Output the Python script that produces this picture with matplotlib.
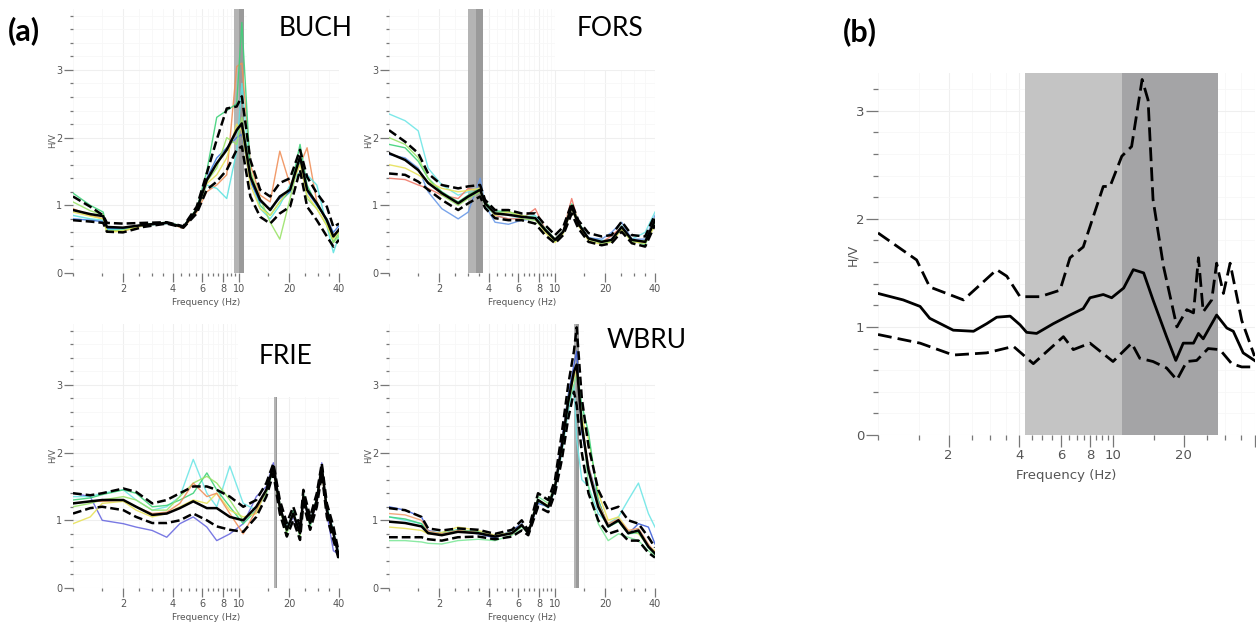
import matplotlib
matplotlib.use("Agg")
import matplotlib.pyplot as plt
import matplotlib.ticker as ticker
from matplotlib.patches import Rectangle

W, H = 1256, 625

# ---- panel (a): single-station H/V curves ----
BUCH_FREQ = [1.0, 1.27, 1.52, 1.6, 2.0, 2.65, 3.67, 4.62, 5.56, 6.39, 7.34, 8.43, 9.68,
             10.4, 11.7, 13.4, 15.4, 17.6, 20.3, 23.3, 25.7, 29.4, 33.8, 37.0, 40.0]
BUCH_MEAN = [0.93, 0.87, 0.84, 0.68, 0.67, 0.71, 0.74, 0.68, 0.93, 1.37, 1.62, 1.82, 2.11,
             2.21, 1.42, 1.08, 0.93, 1.13, 1.23, 1.72, 1.23, 1.03, 0.78, 0.54, 0.64]
BUCH_UPPER = [1.13, 0.98, 0.85, 0.74, 0.73, 0.74, 0.75, 0.69, 0.98, 1.47, 1.97, 2.43, 2.46,
              2.61, 1.67, 1.23, 1.13, 1.33, 1.40, 1.82, 1.42, 1.18, 0.98, 0.68, 0.73]
BUCH_LOWER = [0.78, 0.76, 0.74, 0.61, 0.60, 0.68, 0.73, 0.67, 0.88, 1.23, 1.35, 1.52, 1.82,
              1.87, 1.13, 0.83, 0.73, 0.88, 0.98, 1.52, 0.98, 0.78, 0.54, 0.39, 0.49]
BUCH_WIN = [
    [0.95, 0.85, 0.80, 0.62, 0.62, 0.70, 0.74, 0.66, 0.90, 1.20, 1.30, 1.45, 3.05,
     3.10, 1.60, 1.15, 1.05, 1.80, 1.30, 1.60, 1.85, 1.05, 0.75, 0.55, 0.65],
    [1.18, 1.00, 0.90, 0.65, 0.64, 0.72, 0.75, 0.69, 0.95, 1.50, 2.30, 2.40, 2.50,
     3.70, 1.50, 1.00, 0.85, 1.05, 1.20, 1.90, 1.30, 1.00, 0.80, 0.45, 0.60],
    [0.85, 0.80, 0.78, 0.64, 0.65, 0.70, 0.73, 0.68, 0.92, 1.30, 1.25, 1.10, 1.80,
     2.80, 1.40, 0.95, 0.80, 1.00, 1.30, 1.50, 1.45, 1.30, 0.70, 0.30, 0.55],
    [0.80, 0.78, 0.76, 0.66, 0.66, 0.70, 0.74, 0.68, 0.93, 1.40, 1.70, 1.85, 2.00,
     2.05, 1.35, 1.05, 0.95, 1.10, 1.20, 1.65, 1.20, 1.00, 0.80, 0.60, 0.70],
    [1.05, 0.92, 0.86, 0.62, 0.63, 0.71, 0.74, 0.68, 0.94, 1.35, 1.55, 2.00, 1.90,
     2.30, 1.50, 1.10, 0.75, 0.50, 1.10, 1.70, 1.10, 0.95, 0.70, 0.45, 0.55],
    [0.90, 0.84, 0.80, 0.60, 0.62, 0.70, 0.74, 0.67, 0.92, 1.32, 1.45, 1.70, 2.20,
     2.10, 1.30, 0.95, 0.85, 1.05, 1.25, 1.60, 1.15, 0.95, 0.70, 0.50, 0.60],
]
BUCH_COLORS = ['#f0905a', '#3fd27a', '#5fe3e0', '#3f78e0', '#9be36a', '#e8e25a']
BUCH_BAND = [9.33, 10.05, 10.7]

FORS_FREQ = [1.0, 1.25, 1.5, 1.72, 2.08, 2.61, 3.0, 3.54, 3.79, 4.35, 5.24, 6.3, 7.6,
             8.7, 10.0, 11.2, 12.6, 13.8, 15.9, 19.1, 21.9, 25.2, 29.0, 34.9, 40.0]
FORS_MEAN = [1.77, 1.67, 1.52, 1.33, 1.18, 1.03, 1.13, 1.23, 1.03, 0.88, 0.86, 0.83, 0.81,
             0.64, 0.49, 0.61, 0.98, 0.73, 0.51, 0.46, 0.49, 0.68, 0.49, 0.46, 0.78]
FORS_UPPER = [2.11, 1.94, 1.77, 1.47, 1.30, 1.25, 1.28, 1.30, 1.08, 0.93, 0.93, 0.88, 0.88,
              0.71, 0.56, 0.68, 1.03, 0.78, 0.59, 0.54, 0.56, 0.76, 0.56, 0.54, 0.86]
FORS_LOWER = [1.47, 1.45, 1.35, 1.23, 1.08, 0.93, 1.03, 1.13, 0.96, 0.81, 0.78, 0.78, 0.73,
              0.56, 0.44, 0.56, 0.88, 0.66, 0.46, 0.41, 0.44, 0.61, 0.44, 0.39, 0.71]
FORS_WIN = [
    [2.35, 2.25, 2.10, 1.55, 1.30, 1.15, 1.20, 1.25, 1.00, 0.85, 0.80, 0.82, 0.85,
     0.65, 0.50, 0.62, 1.00, 0.75, 0.52, 0.48, 0.50, 0.70, 0.50, 0.60, 0.90],
    [1.40, 1.38, 1.30, 1.25, 1.15, 1.10, 1.25, 1.20, 1.05, 0.85, 0.80, 0.80, 0.95,
     0.65, 0.50, 0.62, 1.10, 0.75, 0.50, 0.45, 0.55, 0.68, 0.48, 0.45, 0.80],
    [1.75, 1.70, 1.55, 1.20, 0.95, 0.80, 0.90, 1.40, 1.00, 0.75, 0.72, 0.78, 0.80,
     0.62, 0.48, 0.60, 0.95, 0.72, 0.52, 0.50, 0.60, 0.75, 0.50, 0.50, 0.85],
    [1.90, 1.85, 1.65, 1.40, 1.20, 1.05, 1.15, 1.25, 1.05, 0.92, 0.90, 0.85, 0.82,
     0.66, 0.50, 0.62, 1.02, 0.76, 0.50, 0.45, 0.48, 0.66, 0.48, 0.42, 0.75],
    [1.60, 1.55, 1.45, 1.35, 1.25, 1.20, 1.22, 1.25, 1.05, 0.85, 0.90, 0.85, 0.80,
     0.60, 0.45, 0.58, 0.95, 0.70, 0.48, 0.42, 0.46, 0.64, 0.46, 0.44, 0.70],
    [2.00, 1.90, 1.70, 1.40, 1.15, 1.00, 1.10, 1.20, 1.00, 0.88, 0.92, 0.80, 0.78,
     0.63, 0.47, 0.60, 0.98, 0.74, 0.50, 0.44, 0.47, 0.67, 0.46, 0.48, 0.80],
]
FORS_COLORS = ['#6fe6e6', '#f07a6a', '#6a9ae8', '#3fd27a', '#e8e25a', '#9be36a']
FORS_BAND = [2.99, 3.34, 3.68]

FRIE_FREQ = [1.0, 1.27, 1.5, 2.01, 2.4, 3.0, 3.67, 4.4, 5.3, 6.4, 7.34, 8.8, 10.6, 12.7,
             14.6, 16.1, 17.6, 19.4, 21.2, 23.3, 24.4, 26.8, 29.4, 31.5, 33.8, 37.0, 40.0]
FRIE_MEAN = [1.25, 1.28, 1.30, 1.30, 1.20, 1.08, 1.10, 1.18, 1.28, 1.18, 1.18, 1.05, 1.00, 1.20,
             1.45, 1.79, 1.20, 0.86, 1.10, 0.81, 1.35, 0.96, 1.30, 1.79, 1.15, 0.81, 0.46]
FRIE_UPPER = [1.40, 1.37, 1.40, 1.47, 1.42, 1.25, 1.30, 1.40, 1.50, 1.50, 1.45, 1.35, 1.20, 1.30,
              1.55, 1.84, 1.30, 0.96, 1.20, 0.91, 1.45, 1.05, 1.40, 1.84, 1.25, 0.91, 0.51]
FRIE_LOWER = [1.10, 1.18, 1.20, 1.15, 1.05, 0.96, 0.96, 1.00, 1.10, 1.00, 0.91, 0.86, 0.83, 1.05,
              1.35, 1.69, 1.10, 0.76, 1.00, 0.71, 1.25, 0.86, 1.20, 1.69, 1.05, 0.71, 0.41]
FRIE_WIN = [
    [1.40, 1.35, 1.00, 0.95, 0.90, 0.85, 0.75, 0.95, 1.05, 0.90, 0.70, 0.80, 0.95, 1.35,
     1.50, 1.85, 1.15, 0.85, 1.05, 0.80, 1.30, 0.95, 1.25, 1.85, 1.10, 0.55, 0.50],
    [1.35, 1.35, 1.40, 1.45, 1.30, 1.15, 1.20, 1.35, 1.90, 1.40, 1.20, 1.80, 1.25, 1.15,
     1.40, 1.75, 1.20, 0.90, 1.10, 0.85, 1.35, 1.00, 1.30, 1.75, 1.20, 0.85, 0.50],
    [1.30, 1.33, 1.38, 1.45, 1.40, 1.20, 1.22, 1.30, 1.40, 1.70, 1.45, 1.20, 0.95, 1.15,
     1.45, 1.80, 1.25, 0.80, 1.15, 0.75, 1.40, 0.90, 1.35, 1.80, 1.20, 0.80, 0.45],
    [0.95, 1.05, 1.25, 1.28, 1.15, 1.05, 1.10, 1.20, 1.30, 1.25, 1.40, 1.15, 1.05, 1.10,
     1.45, 1.75, 1.20, 0.85, 1.10, 0.80, 1.35, 0.95, 1.30, 1.70, 1.15, 0.80, 0.48],
    [1.20, 1.25, 1.30, 1.35, 1.30, 1.15, 1.15, 1.35, 1.55, 1.65, 1.55, 1.30, 1.00, 1.20,
     1.40, 1.78, 1.15, 0.82, 1.10, 0.78, 1.35, 0.95, 1.30, 1.78, 1.15, 0.78, 0.45],
    [1.25, 1.28, 1.28, 1.30, 1.20, 1.10, 1.12, 1.25, 1.55, 1.35, 1.40, 1.10, 0.80, 1.15,
     1.45, 1.80, 1.20, 0.86, 1.10, 0.80, 1.35, 0.96, 1.28, 1.75, 1.15, 0.80, 0.46],
]
FRIE_COLORS = ['#6a6ae0', '#6fe6e6', '#3fd27a', '#e8e25a', '#9be36a', '#f0905a']
FRIE_BAND = [16.3, 16.6, 16.9]

WBRU_FREQ = [1.0, 1.25, 1.57, 1.72, 2.08, 2.6, 3.45, 4.35, 5.5, 6.3, 6.9, 7.9, 9.1, 10.0,
             11.0, 12.0, 13.0, 13.5, 14.5, 15.9, 18.2, 20.9, 24.1, 27.6, 31.8, 36.5, 40.0]
WBRU_MEAN = [0.98, 0.96, 0.91, 0.81, 0.78, 0.83, 0.81, 0.76, 0.81, 0.93, 0.81, 1.30, 1.20, 1.50,
             2.10, 2.75, 3.20, 3.30, 2.40, 1.74, 1.20, 0.91, 1.00, 0.81, 0.85, 0.61, 0.51]
WBRU_UPPER = [1.18, 1.15, 1.05, 0.88, 0.85, 0.88, 0.86, 0.80, 0.86, 1.00, 0.85, 1.40, 1.30, 1.60,
              2.30, 3.00, 3.50, 3.85, 2.80, 2.10, 1.45, 1.15, 1.20, 1.00, 0.95, 0.75, 0.60]
WBRU_LOWER = [0.75, 0.75, 0.75, 0.72, 0.70, 0.75, 0.76, 0.72, 0.76, 0.85, 0.78, 1.20, 1.12, 1.40,
              1.90, 2.50, 2.90, 2.70, 2.00, 1.40, 1.00, 0.80, 0.85, 0.70, 0.70, 0.52, 0.45]
WBRU_WIN = [
    [1.20, 1.15, 1.05, 0.85, 0.80, 0.84, 0.80, 0.74, 0.85, 0.95, 0.80, 1.25, 1.20, 1.50,
     2.20, 2.85, 3.30, 3.50, 2.30, 1.80, 1.30, 0.90, 1.00, 0.80, 0.95, 0.90, 0.65],
    [1.05, 1.00, 0.95, 0.83, 0.82, 0.86, 0.82, 0.78, 0.82, 0.92, 0.82, 1.30, 1.18, 1.45,
     2.00, 2.60, 3.00, 2.20, 1.60, 1.50, 1.10, 0.95, 1.05, 1.30, 1.55, 1.10, 0.90],
    [0.70, 0.70, 0.68, 0.66, 0.65, 0.70, 0.72, 0.70, 0.78, 0.90, 0.82, 1.35, 1.25, 1.55,
     2.05, 2.70, 3.00, 3.15, 2.60, 1.50, 0.95, 0.70, 0.80, 0.75, 0.70, 0.55, 0.48],
    [0.90, 0.88, 0.85, 0.80, 0.82, 0.90, 0.85, 0.78, 0.82, 0.94, 0.80, 1.30, 1.22, 1.50,
     2.10, 2.75, 3.10, 3.20, 2.50, 2.20, 1.40, 1.00, 1.05, 0.85, 0.80, 0.62, 0.55],
    [1.05, 1.02, 0.95, 0.82, 0.80, 0.86, 0.83, 0.76, 0.80, 0.92, 0.80, 1.28, 1.20, 1.48,
     2.12, 2.80, 3.15, 3.25, 2.70, 2.30, 1.30, 0.90, 0.98, 0.80, 0.82, 0.60, 0.50],
    [1.10, 1.08, 1.00, 0.84, 0.80, 0.85, 0.82, 0.77, 0.80, 0.93, 0.81, 1.30, 1.20, 1.50,
     2.15, 2.78, 3.15, 3.25, 2.45, 1.80, 1.25, 0.95, 1.02, 0.85, 0.88, 0.65, 0.52],
]
WBRU_COLORS = ['#3f5fd8', '#6fe6e6', '#7fe89a', '#e8e25a', '#3fd27a', '#f0a070']
WBRU_BAND = [13.0, 13.45, 13.9]

# ---- panel (b): mean H/V with +/- std ----
B_FREQ_MEAN = [1.0, 1.28, 1.51, 1.66, 2.09, 2.55, 2.90, 3.20, 3.65, 4.02, 4.29, 4.73, 5.57,
               6.56, 7.47, 7.98, 9.09, 9.87, 11.1, 12.2, 13.5, 14.8, 16.9, 18.5, 19.9, 22.0,
               23.1, 24.2, 27.6, 30.5, 32.5, 35.8, 40.0]
B_MEAN = [1.31, 1.25, 1.19, 1.08, 0.97, 0.96, 1.03, 1.09, 1.10, 1.02, 0.95, 0.94, 1.03,
          1.11, 1.17, 1.27, 1.30, 1.27, 1.36, 1.53, 1.50, 1.25, 0.91, 0.69, 0.85, 0.85,
          0.94, 0.89, 1.11, 0.99, 0.96, 0.76, 0.69]
B_FREQ_UP = [1.0, 1.46, 1.66, 2.31, 2.72, 3.20, 3.53, 4.02, 4.89, 5.95, 6.56, 7.47, 9.09,
             9.71, 10.9, 12.0, 13.3, 14.1, 14.8, 16.4, 18.7, 20.6, 22.0, 23.1, 24.2, 26.3,
             27.6, 29.5, 31.5, 35.3, 40.0]
B_UPPER = [1.87, 1.62, 1.37, 1.25, 1.39, 1.53, 1.47, 1.28, 1.28, 1.34, 1.64, 1.74, 2.30,
           2.30, 2.58, 2.67, 3.29, 3.10, 2.18, 1.56, 1.00, 1.16, 1.13, 1.64, 1.14, 1.25,
           1.59, 1.31, 1.59, 1.06, 0.73]
B_FREQ_LO = [1.0, 1.51, 2.09, 2.90, 3.77, 4.58, 6.15, 6.78, 7.98, 10.0, 12.0, 13.0, 14.8,
             16.9, 18.7, 20.6, 22.7, 25.4, 28.5, 32.0, 35.3, 40.0]
B_LOWER = [0.93, 0.85, 0.74, 0.76, 0.82, 0.66, 0.91, 0.79, 0.85, 0.68, 0.85, 0.71, 0.68,
           0.62, 0.51, 0.68, 0.69, 0.80, 0.79, 0.66, 0.63, 0.63]
B_LIGHT_BAND = [4.22, 10.9]
B_DARK_BAND = [10.9, 28.0]

X_MAJOR = [2, 4, 6, 8, 10, 20, 40]
X_MINOR = [1, 1.5, 2.5, 3, 3.5, 4.5, 5, 5.5, 6.5, 7, 7.5, 8.5, 9, 9.5, 15, 25, 30, 35]


def px_axes(fig, left, right, top, bottom):
    return fig.add_axes([left / W, 1 - bottom / H, (right - left) / W, (bottom - top) / H])


def fig_text(fig, x, y, s, **kw):
    return fig.text(x / W, 1 - y / H, s, **kw)


def white_box(fig, x0, y0, x1, y1):
    fig.add_artist(Rectangle((x0 / W, 1 - y1 / H), (x1 - x0) / W, (y1 - y0) / H,
                             transform=fig.transFigure, fc='white', ec='none', zorder=3))


def style_hv(ax, ymax, fs, xlabels):
    ax.set_xscale('log')
    ax.set_xlim(1, 40)
    ax.set_ylim(0, ymax)
    for s in ax.spines.values():
        s.set_visible(False)
    ax.set_xticks(X_MAJOR, labels=[str(v) if v in xlabels else '' for v in X_MAJOR])
    ax.set_xticks(X_MINOR, minor=True)
    ax.xaxis.set_minor_formatter(ticker.NullFormatter())
    ax.yaxis.set_major_locator(ticker.MultipleLocator(1))
    ax.yaxis.set_minor_locator(ticker.MultipleLocator(0.2))
    ax.tick_params(which='both', colors='#777777', labelcolor='#555555', labelsize=fs,
                   direction='out', width=0.9)
    ax.tick_params(which='major', length=fs * 0.9, pad=1.5)
    ax.tick_params(which='minor', length=fs * 0.35)
    ax.grid(which='major', color='#efefef', lw=0.8)
    ax.grid(which='minor', color='#f7f7f7', lw=0.6)
    ax.set_axisbelow(True)


def station(fig, box, freq, mean, upper, lower, wins, colors, band, band_top):
    ax = px_axes(fig, *box)
    style_hv(ax, 3.9, 7, X_MAJOR)
    ax.fill_between([band[0], band[1]], 0, band_top, color='#b4b4b4', lw=0, zorder=1)
    ax.fill_between([band[1], band[2]], 0, band_top, color='#9a9a9a', lw=0, zorder=1)
    for w, c in zip(wins, colors):
        ax.plot(freq, w, color=c, lw=1.0, alpha=0.9, zorder=2)
    for curve in (upper, lower):
        ax.plot(freq, curve, color='black', lw=1.8, ls=(0, (3.5, 1.6)), zorder=3)
    ax.plot(freq, mean, color='black', lw=1.8, zorder=4)
    ax.text(0.5, -29 / 264, 'Frequency (Hz)', transform=ax.transAxes, ha='center',
            va='center', fontsize=6.5, color='#555555')
    ax.text(-21 / 266, 1.95, 'H/V', transform=ax.get_yaxis_transform(), rotation=90,
            ha='center', va='center', fontsize=6, color='#555555')
    return ax


fig = plt.figure(figsize=(W / 100, H / 100), dpi=100)

station(fig, (73, 339, 9, 273), BUCH_FREQ, BUCH_MEAN, BUCH_UPPER, BUCH_LOWER,
        BUCH_WIN, BUCH_COLORS, BUCH_BAND, 3.9)
station(fig, (389, 655, 9, 273), FORS_FREQ, FORS_MEAN, FORS_UPPER, FORS_LOWER,
        FORS_WIN, FORS_COLORS, FORS_BAND, 3.9)
station(fig, (73, 339, 324, 588), FRIE_FREQ, FRIE_MEAN, FRIE_UPPER, FRIE_LOWER,
        FRIE_WIN, FRIE_COLORS, FRIE_BAND, 3.9)
station(fig, (389, 655, 324, 588), WBRU_FREQ, WBRU_MEAN, WBRU_UPPER, WBRU_LOWER,
        WBRU_WIN, WBRU_COLORS, WBRU_BAND, 3.9)

# panel (b)
axb = px_axes(fig, 878, 1254.5, 73, 435)
style_hv(axb, 3.35, 9.5, [2, 4, 6, 8, 10, 20])
axb.axvspan(*B_LIGHT_BAND, color='#c4c4c4', lw=0, zorder=1)
axb.axvspan(*B_DARK_BAND, color='#a4a4a6', lw=0, zorder=1)
axb.plot(B_FREQ_UP, B_UPPER, color='black', lw=2.0, ls=(0, (5, 2.2)), zorder=3)
axb.plot(B_FREQ_LO, B_LOWER, color='black', lw=2.0, ls=(0, (5, 2.2)), zorder=3)
axb.plot(B_FREQ_MEAN, B_MEAN, color='black', lw=2.0, zorder=4)
axb.text(0.5, -40 / 362, 'Frequency (Hz)', transform=axb.transAxes, ha='center',
         va='center', fontsize=9.5, color='#555555')
axb.text(-25 / 376, 1.67, 'H/V', transform=axb.get_yaxis_transform(), rotation=90,
         ha='center', va='center', fontsize=9, color='#555555')

# white label boxes laid over the station panels
white_box(fig, 247, 0, 360, 70)
white_box(fig, 555, 0, 680, 70)
white_box(fig, 238, 310, 342, 397)
white_box(fig, 584, 310, 680, 383)

lab = dict(fontsize=19, family=['Lato', 'DejaVu Sans'], va='center', zorder=5)
fig_text(fig, 279, 28, 'BUCH', **lab)
fig_text(fig, 577, 28, 'FORS', **lab)
fig_text(fig, 259, 356, 'FRIE', **lab)
fig_text(fig, 607, 340, 'WBRU', **lab)
fig_text(fig, 8, 31, '(a)', fontsize=22, fontweight='bold',
         family=['Lato', 'DejaVu Sans'], va='center', zorder=5)
fig_text(fig, 843, 32, '(b)', fontsize=22, fontweight='bold',
         family=['Lato', 'DejaVu Sans'], va='center', zorder=5)

fig.savefig('out.png', dpi=100, facecolor='white')
